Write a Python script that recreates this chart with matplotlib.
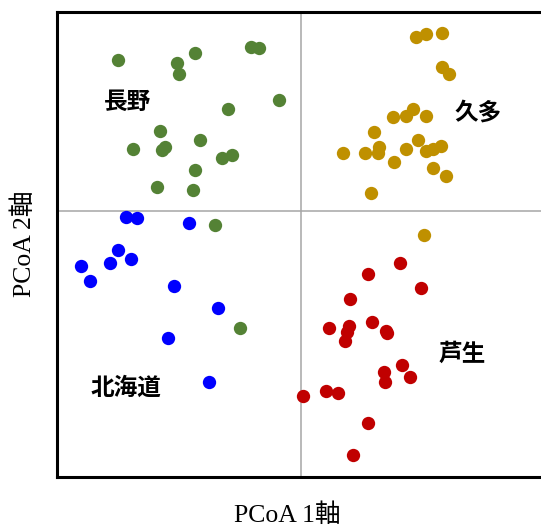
import numpy as np
import matplotlib.pyplot as plt

# PCoA scores (arbitrary units)
nagano_x = [-1.83, -1.24, -1.06, -1.22, -0.50, -0.42, -0.22, -0.73, -1.41, -1.01,
            -1.68, -1.39, -1.36, -0.79, -0.69, -1.06, -1.44, -1.08, -0.86, -0.61]
nagano_y = [1.51, 1.48, 1.58, 1.37, 1.64, 1.63, 1.11, 1.02, 0.80, 0.71,
            0.62, 0.61, 0.64, 0.53, 0.56, 0.41, 0.24, 0.21, -0.14, -1.17]

kuta_x = [1.15, 1.25, 1.41, 1.41, 1.48, 0.92, 1.05, 1.12, 1.25, 0.73, 0.42, 0.64,
          0.78, 0.77, 0.93, 1.05, 1.17, 1.25, 1.32, 1.40, 1.32, 1.45, 0.70, 1.23]
kuta_y = [1.74, 1.77, 1.78, 1.44, 1.37, 0.94, 0.95, 1.02, 0.95, 0.79, 0.58, 0.58,
          0.64, 0.58, 0.49, 0.62, 0.71, 0.60, 0.62, 0.65, 0.43, 0.35, 0.18, -0.24]

hokkaido_x = [-1.75, -1.64, -1.12, -1.83, -2.20, -2.11, -1.91, -1.70, -1.27, -0.83, -1.33, -0.92]
hokkaido_y = [-0.06, -0.07, -0.12, -0.39, -0.55, -0.70, -0.52, -0.48, -0.75, -0.97, -1.27, -1.71]

ashiu_x = [0.99, 0.67, 1.20, 0.49, 0.28, 0.48, 0.46, 0.44, 0.71, 0.85,
           0.86, 1.01, 0.83, 0.84, 1.09, 0.02, 0.25, 0.37, 0.67, 0.52]
ashiu_y = [-0.52, -0.63, -0.77, -0.88, -1.17, -1.15, -1.21, -1.30, -1.11, -1.20,
           -1.22, -1.54, -1.61, -1.71, -1.66, -1.85, -1.80, -1.82, -2.12, -2.44]

W, H = 541, 526
fig = plt.figure(figsize=(W / 100, H / 100), dpi=100)
ax = fig.add_axes([57 / W, (H - 477) / H, (545 - 57) / W, (477 - 12) / H])

ax.axhline(0, color='#a6a6a6', lw=1.1, zorder=1)
ax.axvline(0, color='#a6a6a6', lw=1.1, zorder=1)

s = 92
ax.scatter(nagano_x, nagano_y, s=s, color='#548235', lw=0, zorder=3)
ax.scatter(kuta_x, kuta_y, s=s, color='#bf9000', lw=0, zorder=3)
ax.scatter(hokkaido_x, hokkaido_y, s=s, color='#0000ff', lw=0, zorder=3)
ax.scatter(ashiu_x, ashiu_y, s=s, color='#c00000', lw=0, zorder=3)

ax.set_xlim(-2.44, 2.44)
ax.set_ylim(-2.66, 1.99)
ax.set_xticks([])
ax.set_yticks([])
for sp in ax.spines.values():
    sp.set_linewidth(2.2)
    sp.set_color('black')

jp = ['Noto Sans CJK JP', 'DejaVu Sans']
kw = dict(fontsize=17, family=jp, fontweight='bold', ha='center', va='center')
ax.text(-1.73, 1.09, '長野', **kw)
ax.text(1.77, 0.98, '久多', **kw)
ax.text(1.61, -1.43, '芦生', **kw)
ax.text(-1.75, -1.77, '北海道', **kw)

lab = ['Liberation Serif', 'Noto Sans CJK JP']
fig.text(287 / W, 1 - 515 / H, 'PCoA 1軸', family=lab, fontsize=18.5,
         ha='center', va='center')
fig.text(24 / W, 1 - 244 / H, 'PCoA 2軸', family=lab, fontsize=18.5,
         ha='center', va='center', rotation=90)

fig.savefig('out.png', dpi=100)
